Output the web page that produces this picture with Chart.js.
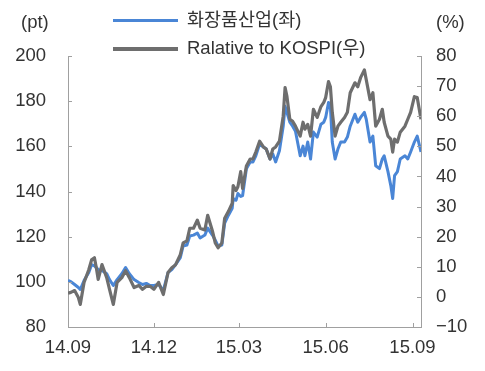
<!DOCTYPE html>
<html><head><meta charset="utf-8">
<script src="https://cdn.jsdelivr.net/npm/chart.js@4/dist/chart.umd.min.js"></script>
<style>
html,body{margin:0;padding:0;background:#fff;}
#wrap{position:relative;width:485px;height:371px;overflow:hidden;}
canvas{position:absolute;left:0;top:0;}
.t{position:absolute;font-family:"Liberation Sans","Noto Sans CJK KR",sans-serif;font-size:18.5px;color:#333;line-height:20px;white-space:nowrap;}
.ln{position:absolute;}
</style></head>
<body><div id="wrap">
<canvas id="c" width="485" height="371"></canvas>
<div class="t" style="left:21px;top:12px;">(pt)</div>
<div class="t" style="left:436px;top:12px;">(%)</div>
<div class="ln" style="left:113px;top:19px;width:65px;height:3px;background:#4a86d6;"></div>
<div class="t" style="left:187px;top:10px;">화장품산업(좌)</div>
<div class="ln" style="left:113px;top:47px;width:65px;height:4px;background:#6e6e6e;"></div>
<div class="t" style="left:187px;top:38px;">Ralative to KOSPI(우)</div>
</div>
<script>
const days = [0,3,7,11,13,17,22,25,28,30,
32,36,41,44,48,52,57,61,65,70,
75,79,83,87,91,96,101,106,110,114,
119,122,126,129,133,137,140,145,148,153,
156,159,163,166,170,174,175,178,180,183,
185,189,193,196,199,203,207,210,214,217,
220,224,228,230,232,235,238,241,246,249,
251,254,257,260,264,268,271,273,276,278,
280,283,286,289,293,296,299,304,307,310,
314,316,320,323,326,330,333,335,339,342,
344,346,349,352,357,360,363,367,370,374];
const cosmetics = [100.6,100.1,98.8,97.5,96.6,100.6,104.1,107.6,107.1,106.3,
105.4,105.0,103.6,101.0,98.4,101.0,103.6,106.3,103.6,101.0,
99.7,98.8,99.3,98.4,98.4,98.8,96.2,104.1,105.4,107.6,
110.7,115.9,116.3,120.3,120.7,121.6,119.4,120.7,123.8,120.7,
118.5,115.9,116.3,126.0,129.5,132.6,136.9,136.1,139.1,137.8,
138.2,150.1,153.1,153.1,155.8,161.0,159.7,158.8,154.4,156.6,
153.1,158.0,168.9,177.7,175.0,170.7,168.9,166.7,155.8,160.1,
155.8,161.9,154.4,166.3,164.1,169.8,170.7,172.8,179.4,177.7,
161.9,154.4,158.8,161.9,161.9,164.1,168.9,174.2,170.7,172.8,
175.0,172.0,161.9,164.5,151.4,150.1,154.4,155.8,148.8,142.6,
136.9,147.0,148.8,154.4,155.8,154.4,157.5,161.9,164.5,157.5];
const relKospi = [1.2,1.5,2.1,-0.2,-2.5,4.8,9.0,12.3,13.0,9.7,
5.8,10.7,6.4,2.5,-2.5,4.8,6.4,8.7,6.4,3.1,
3.8,2.5,3.5,3.5,2.5,4.8,0.8,8.1,9.7,10.7,
14.0,17.9,18.6,22.8,22.8,25.5,22.8,22.2,27.1,21.9,
17.9,16.3,17.9,26.1,28.4,31.1,37.0,35.3,36.6,41.6,
36.0,43.5,45.8,45.8,48.1,51.7,49.8,49.1,45.8,49.1,
49.8,51.7,60.0,69.5,66.5,59.0,58.3,56.7,53.4,58.0,
55.7,57.3,53.4,62.3,59.6,63.2,64.6,66.2,71.5,69.8,
61.3,53.4,56.7,58.0,59.6,61.3,67.8,71.1,69.8,72.8,
75.4,72.1,65.5,67.8,56.7,59.0,62.3,58.0,53.4,52.4,
48.1,52.4,51.4,54.7,56.7,59.0,61.3,66.5,66.2,59.0];
const xTickDays = [0,91,181,273,365];
const xTickLabels = ['14.09','14.12','15.03','15.06','15.09'];

const font = {family:'"Liberation Sans","Noto Sans CJK KR",sans-serif', size:18.5};
const axisColor = '#a0a0a0';
const labelColor = '#333';

const inwardTicks = {
  id:'inwardTicks',
  afterDatasetsDraw(chart){
    const ctx = chart.ctx, a = chart.chartArea;
    ctx.save();
    ctx.strokeStyle = axisColor; ctx.lineWidth = 1;
    ctx.beginPath();
    const yl = chart.scales.y, yr = chart.scales.y1, x = chart.scales.x;
    yl.ticks.forEach(t=>{const p=Math.round(yl.getPixelForValue(t.value))+0.5; ctx.moveTo(a.left,p); ctx.lineTo(a.left+4,p);});
    yr.ticks.forEach(t=>{const p=Math.round(yr.getPixelForValue(t.value))+0.5; ctx.moveTo(a.right-4,p); ctx.lineTo(a.right,p);});
    x.ticks.forEach(t=>{const p=Math.round(x.getPixelForValue(t.value))+0.5; ctx.moveTo(p,a.bottom); ctx.lineTo(p,a.bottom-4);});
    ctx.stroke();
    ctx.restore();
  }
};

new Chart(document.getElementById('c'), {
  type:'line',
  data:{datasets:[
    {label:'화장품산업(좌)', data:days.map((d,i)=>({x:d,y:cosmetics[i]})), yAxisID:'y',
     borderColor:'#4a86d6', borderWidth:3, pointRadius:0, tension:0, order:1, borderJoinStyle:'round'},
    {label:'Ralative to KOSPI(우)', data:days.map((d,i)=>({x:d,y:relKospi[i]})), yAxisID:'y1',
     borderColor:'#6e6e6e', borderWidth:3.2, pointRadius:0, tension:0, order:0, borderJoinStyle:'round'}
  ]},
  options:{
    responsive:false, animation:false, devicePixelRatio:1,
    layout:{padding:{top:56,left:0,right:0,bottom:0}},
    plugins:{legend:{display:false}, tooltip:{enabled:false}},
    scales:{
      x:{type:'linear', min:0, max:374,
        afterBuildTicks(s){ s.ticks = xTickDays.map(v=>({value:v})); },
        afterFit(s){ s.height = 44; },
        ticks:{font, color:labelColor, padding:10, maxRotation:0, autoSkip:false,
          callback(v){ const i = xTickDays.indexOf(v); return i>=0 ? xTickLabels[i] : ''; }},
        grid:{drawOnChartArea:false, drawTicks:false, tickLength:0},
        border:{color:axisColor, width:1}},
      y:{position:'left', min:80, max:200,
        afterBuildTicks(s){ s.ticks = [80,100,120,140,160,180,200].map(v=>({value:v})); },
        afterFit(s){ s.width = 68; },
        ticks:{font, color:labelColor, padding:22},
        grid:{drawOnChartArea:false, drawTicks:false, tickLength:0},
        border:{color:axisColor, width:1}},
      y1:{position:'right', min:-10, max:80,
        afterBuildTicks(s){ s.ticks = [-10,0,10,20,30,40,50,60,70,80].map(v=>({value:v})); },
        afterFit(s){ s.width = 64; },
        ticks:{font, color:labelColor, padding:15, callback(v){ return String(v).replace('-','−'); }},
        grid:{drawOnChartArea:false, drawTicks:false, tickLength:0},
        border:{color:axisColor, width:1}}
    }
  },
  plugins:[inwardTicks]
});
</script>
</body></html>
